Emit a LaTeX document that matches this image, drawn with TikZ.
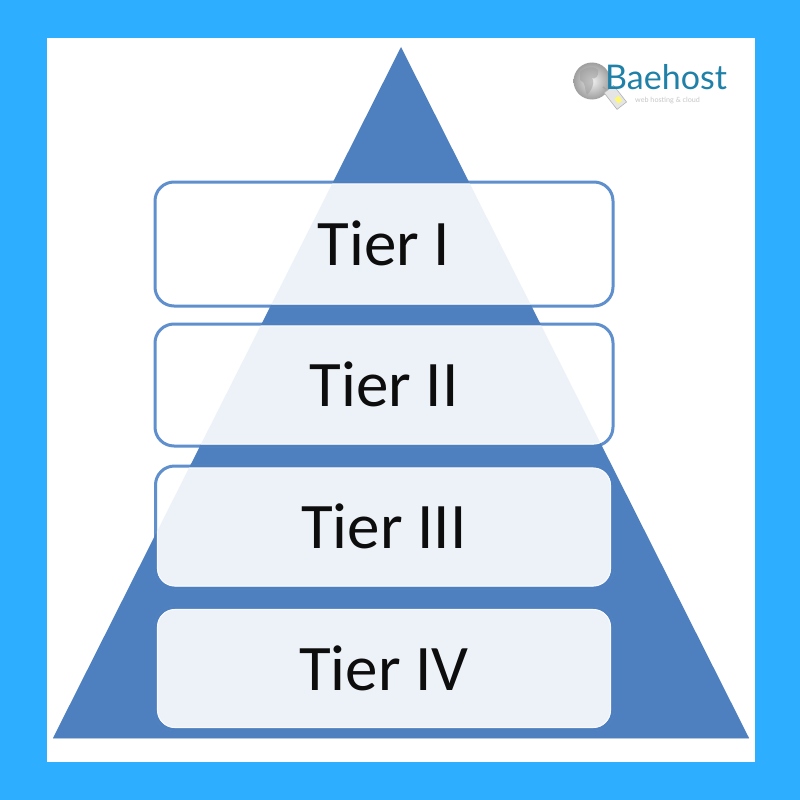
\documentclass[tikz,border=0pt]{standalone}
\usepackage{fontspec}
\setmainfont{Carlito}
\newfontfamily\logofont{Lato}
\usetikzlibrary{calc}
\definecolor{frameblue}{HTML}{2EAEFF}
\definecolor{pyr}{HTML}{4E7FBE}
\definecolor{edgeblue}{HTML}{5F8FCC}
\definecolor{innerpale}{HTML}{F7F9FC}
\definecolor{teal}{HTML}{1F80A8}
\tikzset{
  tierbox/.style={rectangle,rounded corners=19pt,minimum width=#1,fill=white,fill opacity=.9,text opacity=1,
    draw=edgeblue,line width=3pt,inner sep=0pt,outer sep=0pt,font=\fontsize{65}{65}\selectfont,text=black!95},
  tierbox/.default=458pt,
  pyredge/.style={rounded corners=19pt,draw=pyr,line width=3pt},
  paleedge/.style={rounded corners=17.5pt,draw=innerpale,line width=1.1pt}
}
\newcommand{\tieredge}[1]{%
  \draw[pyredge] (#1.south west) rectangle (#1.north east);
  \draw[paleedge] ($(#1.south west)+(2,-2)$) rectangle ($(#1.north east)+(-2,2)$);
}
\begin{document}
\begin{tikzpicture}[x=1pt,y=-1pt]
\useasboundingbox (0,0) rectangle (800,800);
\fill[frameblue] (0,0) rectangle (800,800);
\fill[white] (47,38) rectangle (755,762);
% pyramid
\draw[pyr!35,line width=1pt] (53,738.5) -- (749,738.5);
\fill[pyr] (401,47) -- (749,738) -- (53,738) -- cycle;
% tiers
\node[tierbox=458pt,minimum height=124pt] (t1) at (384,244) {\raisebox{1pt}{Tier I}};
\node[tierbox=458pt,minimum height=122pt] (t2) at (384,385) {\raisebox{1pt}{Tier II}};
\node[tierbox=457pt,minimum height=122pt] (t3) at (384,527) {\raisebox{1pt}{Tier III}};
\node[tierbox=457pt,minimum height=122pt] (t4) at (384,668.5) {\raisebox{1pt}{Tier IV}};
% where the frames lie on the pyramid
\begin{scope}
\clip (401,47) -- (749,738) -- (53,738) -- cycle;
\tieredge{t1}
\tieredge{t2}
\tieredge{t3}
\tieredge{t4}
\end{scope}
% logo
\shade[inner color=black!6,outer color=black!38] (592,81) circle (18.5);
\fill[black!38,opacity=.55] (580,72) .. controls (586,66) and (596,66) .. (598,70) .. controls (600,76) and (594,80) .. (592,78) .. controls (596,84) and (590,92) .. (587,95) .. controls (584,88) and (586,82) .. (580,80) -- cycle;
\draw[black!35,line width=1.5pt] (603,87) -- (609,92);
\fill[black!10,draw=black!30,line width=.6pt,rotate around={-52:(615,97)}] (605,91) rectangle (626,103);
\fill[yellow!55!white,rotate around={-52:(618,100)}] (615,97) rectangle (621,102);
\node[anchor=west,inner sep=0pt,text=teal,font=\logofont\fontsize{34}{34}\selectfont] (brand) at (605,77) {Baehost};
\node[anchor=west,inner sep=0pt,text=black!22,font=\logofont\fontsize{7.2}{8}\selectfont] (tag) at (635,100.5) {web hosting \& cloud};
\end{tikzpicture}
\end{document}
